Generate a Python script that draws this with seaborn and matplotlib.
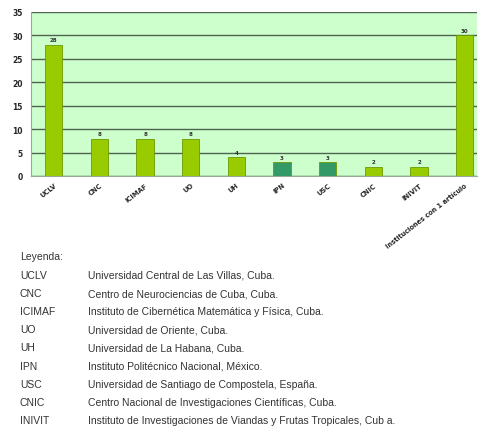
import matplotlib
matplotlib.use("Agg")
import matplotlib.pyplot as plt
import seaborn as sns
import pandas as pd

# ── Data ──────────────────────────────────────────────────────────────────────
categories = ["UCLV", "CNC", "ICIMAF", "UO", "UH", "IPN", "USC", "CNIC", "INIVIT",
              "Instituciones con 1 artículo"]
counts = [28, 8, 8, 8, 4, 3, 3, 2, 2, 30]
origin = ["Cuba", "Cuba", "Cuba", "Cuba", "Cuba", "Extranjero", "Extranjero",
          "Cuba", "Cuba", "Cuba"]

legend_abbr = ["UCLV", "CNC", "ICIMAF", "UO", "UH", "IPN", "USC", "CNIC", "INIVIT"]
legend_desc = [
    "Universidad Central de Las Villas, Cuba.",
    "Centro de Neurociencias de Cuba, Cuba.",
    "Instituto de Cibernética Matemática y Física, Cuba.",
    "Universidad de Oriente, Cuba.",
    "Universidad de La Habana, Cuba.",
    "Instituto Politécnico Nacional, México.",
    "Universidad de Santiago de Compostela, España.",
    "Centro Nacional de Investigaciones Científicas, Cuba.",
    "Instituto de Investigaciones de Viandas y Frutas Tropicales, Cub a.",
]

# ── Style ─────────────────────────────────────────────────────────────────────
PALETTE = {"Cuba": "#99cc00", "Extranjero": "#339966"}
BG      = "#ccffcc"
GRID    = "#4f634f"
TXT     = "#333333"

sns.set_style("white")
plt.rcParams["font.family"] = ["Liberation Sans", "DejaVu Sans"]

df = pd.DataFrame({"inst": categories, "n": counts, "origen": origin})

fig = plt.figure(figsize=(4.78, 4.27), dpi=100)
ax = fig.add_axes([31 / 478, 1 - 177 / 427, 446 / 478, 164 / 427])
ax.set_facecolor(BG)

sns.barplot(data=df, x="inst", y="n", hue="origen", palette=PALETTE,
            dodge=False, width=0.38, saturation=1, edgecolor="#6b9900",
            linewidth=0.6, legend=False, ax=ax, zorder=3)

ax.set_ylim(0, 35)
ax.set_yticks(range(0, 36, 5))
ax.set_xlim(-0.5, 9.27)
ax.yaxis.grid(True, color=GRID, linewidth=1.0, zorder=0)
ax.set_axisbelow(True)
ax.set_xlabel("")
ax.set_ylabel("")

for s in ["top", "right"]:
    ax.spines[s].set_visible(False)
for s in ["left", "bottom"]:
    ax.spines[s].set_color("#9aa89a")
    ax.spines[s].set_linewidth(0.8)

ax.tick_params(axis="y", length=4, width=0.8, color="#777777", labelsize=5.5, pad=2)
ax.tick_params(axis="x", length=0, pad=4)
for t in ax.get_yticklabels():
    t.set_fontweight("bold")
    t.set_family("DejaVu Sans")
ax.set_xticks(range(len(categories)))
ax.set_xticklabels(categories, rotation=38, ha="right", rotation_mode="anchor",
                   fontweight="bold", fontsize=4.8, family="DejaVu Sans")

for i, v in enumerate(counts):
    ax.text(i, v + 0.5, str(v), ha="center", va="bottom", fontsize=4,
            fontweight="bold", color=TXT, family="DejaVu Sans")

# ── Leyenda ───────────────────────────────────────────────────────────────────
fig.text(20 / 478, 1 - 257 / 427, "Leyenda:", fontsize=7.5, color=TXT,
         va="center")
row_y = 276
for abbr, desc in zip(legend_abbr, legend_desc):
    fig.text(20 / 478, 1 - row_y / 427, abbr, fontsize=7.5, color=TXT,
             va="center")
    fig.text(88 / 478, 1 - row_y / 427, desc, fontsize=7.5, color=TXT,
             va="center")
    row_y += 18.1

fig.savefig("out.png", dpi=100)
